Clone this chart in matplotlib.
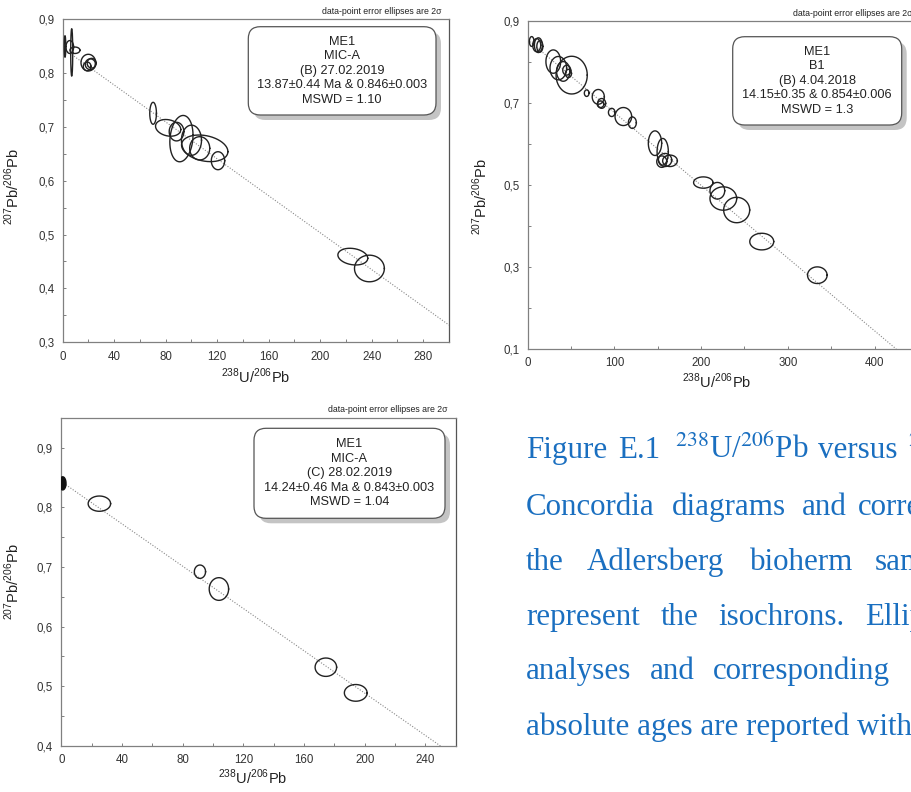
import numpy as np
import matplotlib.pyplot as plt
from matplotlib.patches import FancyBboxPatch
from matplotlib.ticker import MultipleLocator, FixedLocator, FuncFormatter

plt.rcParams["font.family"] = ["Liberation Sans", "DejaVu Sans"]
plt.rcParams["mathtext.fontset"] = "custom"
plt.rcParams["mathtext.rm"] = "Liberation Sans"

W, H = 912, 792

# --- panel A: ME1 MIC-A (B) 27.02.2019 ---
a_x = [1.8, 7.0, 5.5, 9.5, 19.9, 21.5, 19.0, 22.5, 70.2, 81.9, 88.4, 92.2, 100.0, 106.4, 110.3, 120.6, 225.3, 238.2]
a_y = [0.849, 0.838, 0.848, 0.842, 0.819, 0.816, 0.812, 0.818, 0.725, 0.698, 0.691, 0.678, 0.675, 0.660, 0.660, 0.637, 0.459, 0.437]
a_sx = [0.6, 0.8, 3.0, 3.9, 5.7, 4.0, 3.0, 3.5, 2.6, 9.8, 5.7, 9.0, 7.8, 7.8, 18.0, 5.2, 11.6, 11.6]
a_sy = [0.020, 0.044, 0.012, 0.006, 0.0155, 0.010, 0.008, 0.009, 0.0204, 0.0155, 0.0173, 0.043, 0.028, 0.0216, 0.0247, 0.0167, 0.0155, 0.0247]
a_rho = [0, 0, 0, 0, 0, 0, 0, 0, 0, -0.2, 0, 0.15, 0, 0, -0.25, 0, -0.2, 0]
a_line_x = [0, 300]
a_line_y = [0.846, 0.332]

# --- panel B: ME1 B1 (B) 4.04.2018 ---
b_x = [4.6, 10.4, 12.3, 14.0, 29.5, 35.3, 50.7, 41.0, 45.0, 47.0, 68.0, 81.4, 85.3, 84.0, 96.9, 110.3, 120.7,
       146.8, 155.7, 158.4, 154.6, 164.1, 202.5, 218.7, 225.6, 241.0, 269.9, 334.0]
b_y = [0.850, 0.841, 0.841, 0.838, 0.801, 0.785, 0.768, 0.777, 0.780, 0.772, 0.724, 0.715, 0.699, 0.697, 0.677, 0.667, 0.652,
       0.602, 0.581, 0.561, 0.557, 0.559, 0.506, 0.486, 0.467, 0.439, 0.362, 0.280]
b_sx = [2.7, 4.6, 4.6, 3.5, 8.5, 9.6, 18.0, 7.7, 4.6, 3.5, 2.7, 7.0, 4.6, 3.8, 3.8, 9.6, 4.6,
        7.7, 6.5, 7.7, 5.8, 8.5, 11.2, 8.5, 15.4, 15.0, 13.8, 11.3]
b_sy = [0.012, 0.016, 0.018, 0.014, 0.0285, 0.0285, 0.046, 0.024, 0.012, 0.010, 0.008, 0.018, 0.012, 0.008, 0.010, 0.022, 0.014,
        0.030, 0.0325, 0.016, 0.014, 0.014, 0.0138, 0.0203, 0.0285, 0.031, 0.0203, 0.0203]
b_line_x = [0, 425]
b_line_y = [0.854, 0.100]
b_yticks = [0.1, 0.3, 0.5, 0.7, 0.9]

# --- panel C: ME1 MIC-A (C) 28.02.2019 ---
c_x = [25.1, 91.4, 103.9, 174.4, 194.1]
c_y = [0.806, 0.692, 0.663, 0.532, 0.489]
c_sx = [7.4, 3.7, 6.4, 7.1, 7.5]
c_sy = [0.0128, 0.0112, 0.019, 0.0154, 0.0140]
c_fill_x = [0.9]
c_fill_y = [0.840]
c_fill_sx = [2.2]
c_fill_sy = [0.011]
c_line_x = [0, 250]
c_line_y = [0.843, 0.400]

box_a = "ME1\nMIC-A\n(B) 27.02.2019\n13.87±0.44 Ma & 0.846±0.003\nMSWD = 1.10"
box_b = "ME1\nB1\n(B) 4.04.2018\n14.15±0.35 & 0.854±0.006\nMSWD = 1.3"
box_c = "ME1\nMIC-A\n(C) 28.02.2019\n14.24±0.46 Ma & 0.843±0.003\nMSWD = 1.04"

t = np.linspace(0, 2 * np.pi, 200)


def ellipse(ax, x, y, sx, sy, rho=0.0, filled=False):
    ex = x + sx * np.cos(t)
    ey = y + sy * (rho * np.cos(t) + np.sqrt(1 - rho ** 2) * np.sin(t))
    if filled:
        ax.fill(ex, ey, color="#111111", zorder=3)
    else:
        ax.plot(ex, ey, color="#222222", lw=1.0, zorder=3)


def comma(v, pos):
    return f"{v:.1f}".replace(".", ",")


def fax(l, r, top, bot):
    return fig.add_axes([l / W, 1 - bot / H, (r - l) / W, (bot - top) / H])


def style(ax, xmaj, xmin, ymaj, ymin):
    for s in ax.spines.values():
        s.set_color("#808080")
        s.set_linewidth(0.9)
    ax.spines["right"].set_color("#555555")
    ax.xaxis.set_major_locator(MultipleLocator(xmaj))
    ax.xaxis.set_minor_locator(MultipleLocator(xmin))
    if isinstance(ymaj, list):
        ax.yaxis.set_major_locator(FixedLocator(ymaj))
    else:
        ax.yaxis.set_major_locator(MultipleLocator(ymaj))
    ax.yaxis.set_minor_locator(MultipleLocator(ymin))
    ax.yaxis.set_major_formatter(FuncFormatter(comma))
    ax.tick_params(which="both", direction="in", length=2.5, width=0.7, color="#808080",
                   labelsize=8.3, labelcolor="#333333")
    ax.tick_params(axis="x", pad=6)
    ax.tick_params(axis="y", pad=6)
    ax.set_xlabel(r"$^{238}$U/$^{206}$Pb", fontsize=10.5, color="#222222")
    ax.set_ylabel(r"$^{207}$Pb/$^{206}$Pb", fontsize=10.5, color="#222222")
    ax.text(0.98, 1.01, "data-point error ellipses are 2σ", transform=ax.transAxes,
            ha="right", va="bottom", fontsize=6.3, color="#222222")


def infobox(l, r, top, bot, text):
    rs = 12
    shadow = FancyBboxPatch(((l + 5) / W, 1 - (bot + 5) / H), (r - l) / W, (bot - top) / H,
                            boxstyle=f"round,pad=0,rounding_size={rs / W}", mutation_aspect=W / H,
                            transform=fig.transFigure, fc="#c4c4c4", ec="none", zorder=5)
    box = FancyBboxPatch((l / W, 1 - bot / H), (r - l) / W, (bot - top) / H,
                         boxstyle=f"round,pad=0,rounding_size={rs / W}", mutation_aspect=W / H,
                         transform=fig.transFigure, fc="white", ec="#555555", lw=0.9, zorder=6)
    fig.patches.extend([shadow, box])
    fig.text((l + r) / 2 / W, 1 - (top + bot) / 2 / H, text, ha="center", va="center",
             fontsize=9.2, linespacing=1.28, color="#222222", zorder=7)


fig = plt.figure(figsize=(W / 100, H / 100), dpi=100)

# panel A
ax1 = fax(62.7, 449, 19, 342.3)
for x, y, sx, sy, r in zip(a_x, a_y, a_sx, a_sy, a_rho):
    ellipse(ax1, x, y, sx, sy, r)
ax1.plot(a_line_x, a_line_y, color="#888888", lw=0.8, ls=(0, (1, 1.5)), zorder=2)
ax1.set_xlim(0, 300)
ax1.set_ylim(0.3, 0.9)
style(ax1, 40, 20, 0.1, 0.05)
ax1.xaxis.set_label_coords(0.5, -0.075)
ax1.yaxis.set_label_coords(-0.105, 0.48)

# panel B
ax2 = fax(527.7, 920.5, 21, 349)
for x, y, sx, sy in zip(b_x, b_y, b_sx, b_sy):
    ellipse(ax2, x, y, sx, sy)
ax2.plot(b_line_x, b_line_y, color="#888888", lw=0.8, ls=(0, (1, 1.5)), zorder=2)
ax2.set_xlim(0, 453)
ax2.set_ylim(0.1, 0.9)
style(ax2, 100, 50, b_yticks, 0.1)
ax2.xaxis.set_label_coords(0.48, -0.07)
ax2.yaxis.set_label_coords(-0.096, 0.464)

# panel C
ax3 = fax(61.3, 455.7, 417.7, 746)
for x, y, sx, sy in zip(c_x, c_y, c_sx, c_sy):
    ellipse(ax3, x, y, sx, sy)
for x, y, sx, sy in zip(c_fill_x, c_fill_y, c_fill_sx, c_fill_sy):
    ellipse(ax3, x, y, sx, sy, filled=True)
ax3.plot(c_line_x, c_line_y, color="#888888", lw=0.8, ls=(0, (1, 1.5)), zorder=2)
ax3.set_xlim(0, 260)
ax3.set_ylim(0.4, 0.95)
style(ax3, 40, 20, 0.1, 0.05)
ax3.xaxis.set_label_coords(0.484, -0.065)
ax3.yaxis.set_label_coords(-0.1, 0.5)

infobox(248.3, 436, 26.7, 115, box_a)
infobox(732.7, 901.7, 36.7, 125, box_b)
infobox(254, 445, 428.3, 518.3, box_c)

# caption, justified by hand
caption = [
    (458, [(526, "Figure"), (618, "E.1"), (675, r"$^{238}$U/$^{206}$Pb"), (818, "versus"), (908, r"$^{207}$Pb/$^{206}$Pb")]),
    (515, [(526, "Concordia"), (672, "diagrams"), (802, "and"), (858, "corresponding")]),
    (570, [(526, "the"), (587, "Adlersberg"), (750, "bioherm"), (875, "samples")]),
    (625, [(526, "represent"), (661, "the"), (718, "isochrons."), (865, "Ellipses")]),
    (679, [(526, "analyses"), (650, "and"), (713, "corresponding")]),
    (735, [(526, "absolute ages are reported with")]),
]
for base, words in caption:
    for x, w in words:
        fig.text(x / W, 1 - base / H, w, ha="left", va="baseline", fontsize=22.3,
                 family=["Liberation Serif", "DejaVu Serif"], math_fontfamily="stix",
                 color="#1a6fc0")

fig.savefig("out.png", dpi=100)
